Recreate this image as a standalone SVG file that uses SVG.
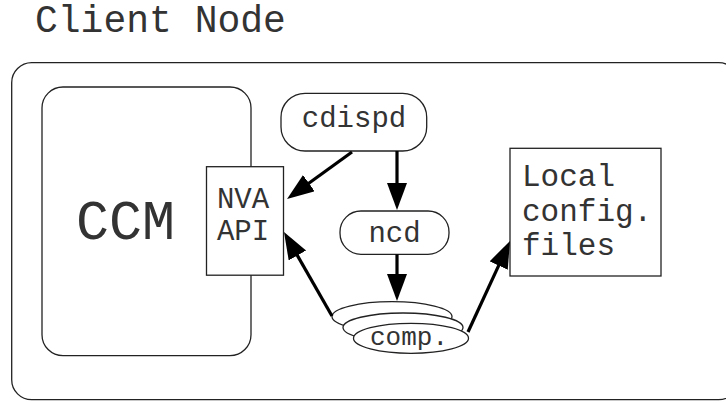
<svg xmlns="http://www.w3.org/2000/svg" width="726" height="403" viewBox="0 0 726 403">
  <style>
    .box { fill: #fff; stroke: #222; stroke-width: 1.3; }
    .lbl { font-family: "Liberation Mono", "DejaVu Sans Mono", monospace; fill: #333; }
    .mid { text-anchor: middle; }
    .flow { stroke: #000; stroke-width: 3.2; fill: none; }
  </style>
  <defs>
    <marker id="head" markerUnits="userSpaceOnUse" markerWidth="30" markerHeight="22" refX="1" refY="10" orient="auto">
      <path d="M0,0 L27,10 L0,20 z" fill="#000"/>
    </marker>
  </defs>

  <rect width="726" height="403" fill="#fff"/>

  <text class="lbl" x="35" y="32" font-size="38">Client Node</text>

  <g id="client-node">
    <rect class="box" x="11.7" y="62.7" width="727" height="337" rx="20" ry="20"/>
  </g>

  <g id="ccm">
    <rect class="box" x="42" y="87" width="209" height="268.7" rx="21" ry="21"/>
    <text class="lbl mid" x="125.5" y="239" font-size="55">CCM</text>
  </g>

  <g id="nva-api">
    <rect class="box" x="206.5" y="166.7" width="77" height="108.5"/>
    <text class="lbl mid" x="243" y="208" font-size="29">NVA</text>
    <text class="lbl mid" x="243" y="239.5" font-size="29">API</text>
  </g>

  <g id="cdispd">
    <rect class="box" x="281" y="93.3" width="145.7" height="57.7" rx="24" ry="24"/>
    <text class="lbl mid" x="354" y="127.3" font-size="29">cdispd</text>
  </g>

  <g id="ncd">
    <rect class="box" x="340" y="211" width="109" height="43.3" rx="21" ry="21"/>
    <text class="lbl mid" x="394.5" y="241.7" font-size="29">ncd</text>
  </g>

  <g id="local-config">
    <rect class="box" x="510" y="148.3" width="151" height="127.7"/>
    <text class="lbl" x="522" y="186" font-size="31">Local</text>
    <text class="lbl" x="522" y="220.5" font-size="31">config.</text>
    <text class="lbl" x="522" y="255" font-size="31">files</text>
  </g>

  <g id="comp">
    <ellipse class="box" cx="392" cy="316.5" rx="60" ry="14.8"/>
    <ellipse class="box" cx="403" cy="327.5" rx="60" ry="14.5"/>
    <ellipse class="box" cx="411" cy="338.3" rx="57.5" ry="15"/>
    <text class="lbl mid" x="409" y="345" font-size="26">comp.</text>
  </g>

  <g id="connectors">
    <line class="flow" x1="352" y1="152" x2="308.1" y2="183.8" marker-end="url(#head)"/>
    <line class="flow" x1="397" y1="151" x2="397" y2="184" marker-end="url(#head)"/>
    <line class="flow" x1="397" y1="254.3" x2="397" y2="275" marker-end="url(#head)"/>
    <line class="flow" x1="332" y1="316" x2="296.9" y2="254.6" marker-end="url(#head)"/>
    <line class="flow" x1="468" y1="332" x2="499.1" y2="264.6" marker-end="url(#head)"/>
  </g>
</svg>
